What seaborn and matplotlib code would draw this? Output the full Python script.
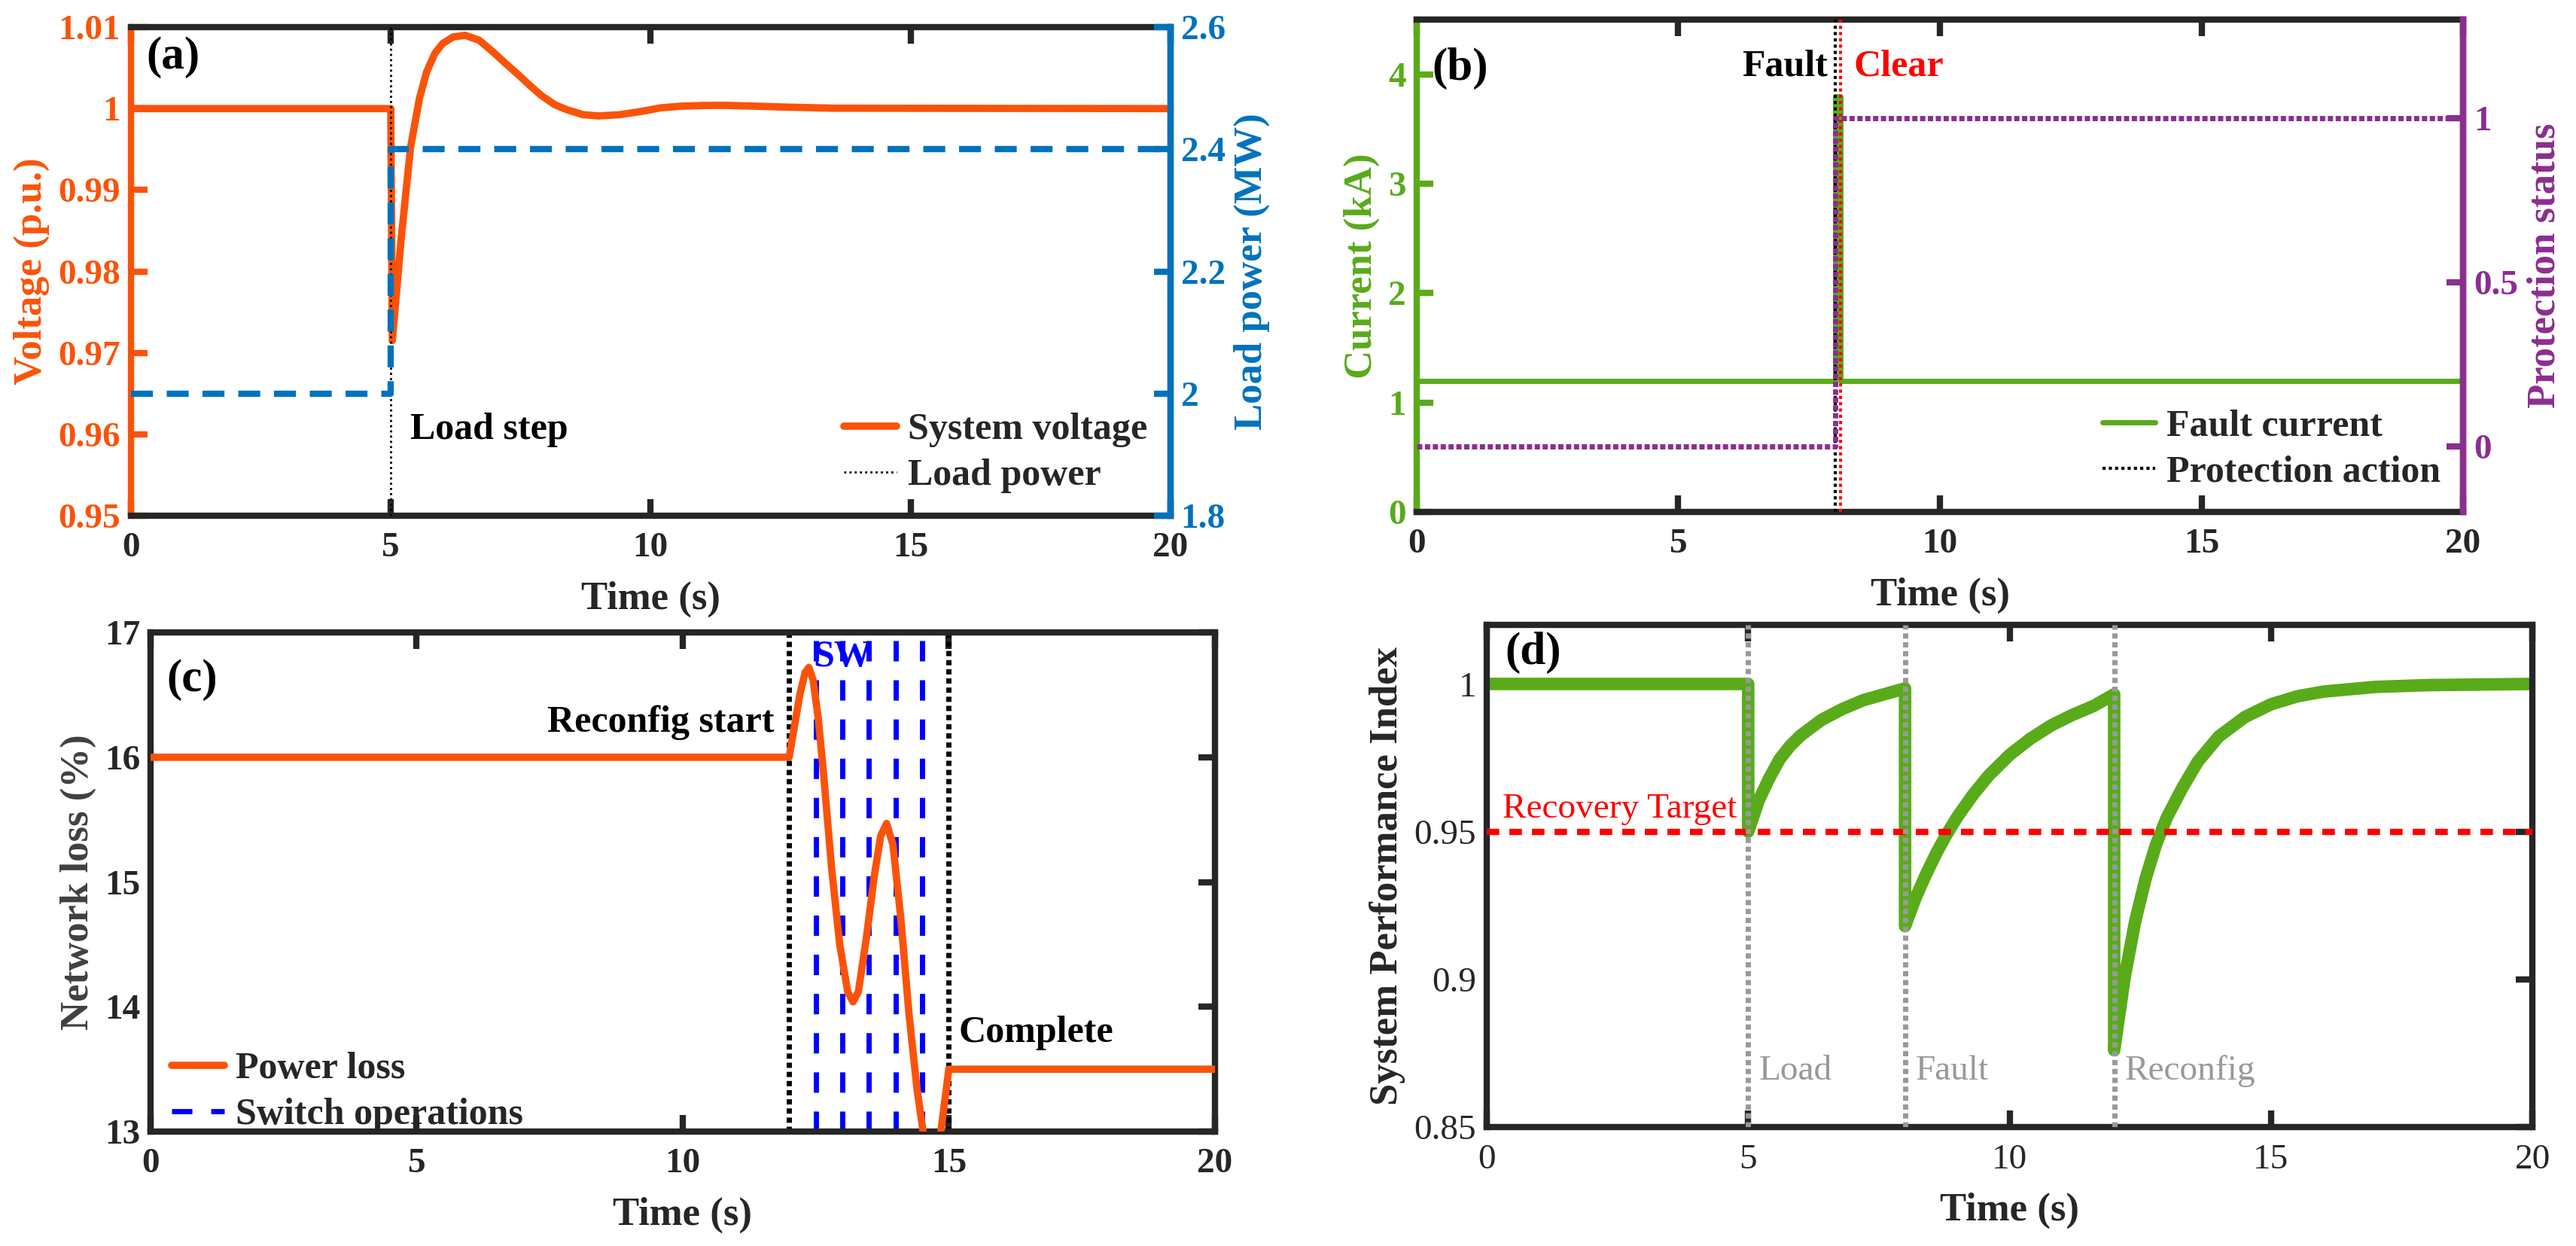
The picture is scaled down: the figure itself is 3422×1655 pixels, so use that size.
import numpy as np
import seaborn as sns
import matplotlib
matplotlib.use("Agg")
import matplotlib.pyplot as plt
from matplotlib.lines import Line2D

# ---- (a) load step ----
volt_t = [0, 5.0, 5.03, 5.2, 5.38, 5.55, 5.69, 5.85, 6.0, 6.2, 6.43, 6.7, 6.96, 7.2, 7.43,
          7.7, 7.9, 8.15, 8.38, 8.7, 9.0, 9.4, 9.8, 10.2, 10.6, 11.0, 11.4, 12.0, 12.5, 13.5, 20]
volt_v = [1.0, 1.0, 0.9715, 0.984, 0.9952, 1.0012, 1.0045, 1.0068, 1.0080, 1.0088, 1.0090, 1.0084, 1.0070,
          1.0056, 1.0043, 1.0027, 1.0016, 1.0005, 0.99988, 0.99925, 0.9991, 0.99925, 0.99963, 1.0001, 1.0003,
          1.00038, 1.0004, 1.0003, 1.0002, 1.00005, 1.0]
load_t = [0, 5.0, 5.0, 20]
load_p = [2.0, 2.0, 2.4, 2.4]

# ---- (b) fault ----
cur_t = [0, 8.0, 8.0, 8.1, 8.1, 20]
cur_i = [1.2, 1.2, 3.8, 3.8, 1.2, 1.2]
prot_t = [0, 8.0, 8.0, 20]
prot_s = [0, 0, 1, 1]

# ---- (c) reconfiguration ----
loss_t = [0, 12.0, 12.1, 12.2, 12.3, 12.37, 12.45, 12.55, 12.65, 12.8, 12.95, 13.1, 13.2, 13.3, 13.45,
          13.6, 13.72, 13.83, 13.95, 14.1, 14.25, 14.4, 14.55, 14.7, 14.85, 15.0, 20]
loss_v = [16.0, 16.0, 16.25, 16.5, 16.68, 16.72, 16.62, 16.3, 15.85, 15.1, 14.5, 14.12, 14.04, 14.12, 14.55,
          15.05, 15.37, 15.47, 15.3, 14.7, 13.95, 13.35, 12.9, 12.75, 13.0, 13.5, 13.5]
sw_times = [12.5, 13.0, 13.5, 14.0, 14.5]
reconfig_bounds = [12, 15]

# ---- (d) performance index ----
spi_t = [0, 5.0, 5.0, 5.2, 5.4, 5.6, 5.8, 6.0, 6.4, 6.8, 7.2, 7.6, 8.0,
         8.0, 8.2, 8.4, 8.6, 8.8, 9.0, 9.3, 9.6, 10.0, 10.4, 10.8, 11.2, 11.6, 12.0,
         12.0, 12.2, 12.4, 12.6, 12.8, 13.0, 13.3, 13.6, 14.0, 14.5, 15.0, 15.5, 16.0, 17.0, 18.0, 20]
spi_v = [1.0, 1.0, 0.95, 0.9605, 0.968, 0.9745, 0.979, 0.9825, 0.9878, 0.9915, 0.9945, 0.9965, 0.9985,
         0.918, 0.9275, 0.9355, 0.9428, 0.9492, 0.955, 0.9625, 0.969, 0.976, 0.9815, 0.986, 0.9895, 0.9925, 0.9965,
         0.876, 0.9006, 0.9195, 0.934, 0.9456, 0.9545, 0.9647, 0.9737, 0.9822, 0.9888, 0.9931, 0.9958, 0.9974,
         0.999, 0.9996, 1.0]
event_t = [5, 8, 12]
event_lbl = ["Load", "Fault", "Reconfig"]
target = 0.95

ORANGE = "#FA5309"
BLUE = "#0072BD"
GREEN = "#59AB1A"
PURPLE = "#8C2D8F"
DARK = "#262626"

sns.set_theme(style="white")
plt.rcParams["font.family"] = ["Liberation Serif", "DejaVu Serif"]
plt.rcParams["font.weight"] = "bold"
plt.rcParams["axes.linewidth"] = 3

TICK = 17
LAB = 19


def style_axis(ax, xcolor=DARK, right=True, bold=True):
    w = "bold" if bold else "normal"
    ax.set_xlim(0, 20)
    ax.set_xticks([0, 5, 10, 15, 20])
    ax.tick_params(axis="x", direction="in", length=8, width=3, top=True, bottom=True,
                   colors=DARK, labelsize=TICK, pad=8)
    ax.tick_params(axis="y", direction="in", length=8, width=3, right=right,
                   labelsize=TICK, pad=5)
    for lab in ax.get_xticklabels() + ax.get_yticklabels():
        lab.set_fontweight(w)
    for s in ax.spines.values():
        s.set_color(DARK)
        s.set_linewidth(3)
    ax.set_xlabel("Time (s)", fontsize=LAB, fontweight="bold", color=DARK, labelpad=8)


fig = plt.figure(figsize=(17.115, 8.275), dpi=200)

# ================= (a) =================
ax = fig.add_axes([0.0508, 0.5861, 0.4034, 0.3921])
ax2 = ax.twinx()
sns.lineplot(x=volt_t, y=volt_v, ax=ax, color=ORANGE, linewidth=3.5, estimator=None, sort=False, zorder=3)
sns.lineplot(x=load_t, y=load_p, ax=ax2, color=BLUE, linewidth=3, linestyle=(0, (3.5, 2.2)),
             estimator=None, sort=False)
vl = ax.axvline(5, color="black", linewidth=1, linestyle=(0, (1, 1.5)), zorder=4)
ax.set_ylim(0.95, 1.01)
ax.set_yticks([0.95, 0.96, 0.97, 0.98, 0.99, 1.0, 1.01])
ax.set_yticklabels(["0.95", "0.96", "0.97", "0.98", "0.99", "1", "1.01"])
ax2.set_ylim(1.8, 2.6)
ax2.set_yticks([1.8, 2.0, 2.2, 2.4, 2.6])
ax2.set_yticklabels(["1.8", "2", "2.2", "2.4", "2.6"])
style_axis(ax, right=False)
ax2.tick_params(axis="y", direction="in", length=8, width=3, colors=BLUE, labelsize=TICK, pad=5)
for lab in ax2.get_yticklabels():
    lab.set_fontweight("bold")
ax.tick_params(axis="y", colors=ORANGE)
ax.spines["left"].set_color(ORANGE)
ax2.spines["right"].set_color(BLUE)
ax2.spines["right"].set_linewidth(3)
ax2.spines["left"].set_visible(False)
ax2.spines["top"].set_visible(False)
ax2.spines["bottom"].set_visible(False)
ax.set_ylabel("Voltage (p.u.)", fontsize=LAB, fontweight="bold", color=ORANGE)
ax2.set_ylabel("Load power (MW)", fontsize=LAB, fontweight="bold", color=BLUE)
ax.text(0.3, 1.0063, "(a)", fontsize=22, fontweight="bold", color="black", va="center")
ax.text(5.37, 0.9605, "Load step", fontsize=18, fontweight="bold", color="black", va="center")
ax2.legend([Line2D([], [], color=ORANGE, lw=3.5), vl], ["System voltage", "Load power"],
           loc="lower right", frameon=False, fontsize=18, handlelength=1.4, handletextpad=0.3,
           borderaxespad=0.2, labelspacing=0.3)

# ================= (b) =================
bx = fig.add_axes([0.5498, 0.5891, 0.4061, 0.3952])
bx2 = bx.twinx()
sns.lineplot(x=cur_t, y=cur_i, ax=bx, color=GREEN, linewidth=2.5, estimator=None, sort=False)
sns.lineplot(x=prot_t, y=prot_s, ax=bx2, color=PURPLE, linewidth=2.5, linestyle=(0, (1, 0.5)),
             estimator=None, sort=False)
fv = bx.axvline(8.0, color="black", linewidth=1.5, linestyle=(0, (1, 1)), zorder=4)
bx.axvline(8.1, color="red", linewidth=1.5, linestyle=(0, (1, 1)), zorder=4)
bx.set_ylim(0, 4.5)
bx.set_yticks([0, 1, 2, 3, 4])
bx2.set_ylim(-0.2, 1.3)
bx2.set_yticks([0, 0.5, 1])
bx2.set_yticklabels(["0", "0.5", "1"])
style_axis(bx, right=False)
bx2.tick_params(axis="y", direction="in", length=8, width=3, colors=PURPLE, labelsize=TICK, pad=5)
for lab in bx2.get_yticklabels():
    lab.set_fontweight("bold")
bx.tick_params(axis="y", colors=GREEN)
bx.spines["left"].set_color(GREEN)
bx2.spines["right"].set_color(PURPLE)
bx2.spines["right"].set_linewidth(3)
bx2.spines["left"].set_visible(False)
bx2.spines["top"].set_visible(False)
bx2.spines["bottom"].set_visible(False)
bx.set_ylabel("Current (kA)", fontsize=LAB, fontweight="bold", color=GREEN)
bx2.set_ylabel("Protection status", fontsize=LAB, fontweight="bold", color=PURPLE)
bx.text(0.3, 4.05, "(b)", fontsize=22, fontweight="bold", color="black", va="center")
bx.text(7.85, 4.07, "Fault", fontsize=18, fontweight="bold", color="black", va="center", ha="right")
bx.text(8.35, 4.07, "Clear", fontsize=18, fontweight="bold", color="red", va="center", ha="left")
bx2.legend([Line2D([], [], color=GREEN, lw=2.5), fv], ["Fault current", "Protection action"],
           loc="lower right", frameon=False, fontsize=18, handlelength=1.4, handletextpad=0.3,
           borderaxespad=0.2, labelspacing=0.3)

# ================= (c) =================
cx = fig.add_axes([0.0584, 0.0918, 0.4131, 0.4006])
for t in reconfig_bounds:
    cx.axvline(t, color="black", linewidth=2.5, linestyle=(0, (1, 0.75)), zorder=2)
for t in sw_times:
    cx.axvline(t, color="#0000FF", linewidth=2.5, linestyle=(0, (3.9, 3.6)), zorder=2)
sns.lineplot(x=loss_t, y=loss_v, ax=cx, color=ORANGE, linewidth=3.5, estimator=None, sort=False, zorder=3)
cx.set_ylim(13, 17)
cx.set_yticks([13, 14, 15, 16, 17])
style_axis(cx)
cx.set_ylabel("Network loss (%)", fontsize=LAB, fontweight="bold", color="#404040")
cx.text(0.3, 16.62, "(c)", fontsize=22, fontweight="bold", color="black", va="center")
cx.text(11.72, 16.28, "Reconfig start", fontsize=18, fontweight="bold", color="black", va="center", ha="right")
cx.text(12.45, 16.8, "SW", fontsize=18, fontweight="bold", color="#0000FF", va="center", ha="left")
cx.text(15.18, 13.79, "Complete", fontsize=18, fontweight="bold", color="black", va="center", ha="left")
cx.legend([Line2D([], [], color=ORANGE, lw=3.5),
           Line2D([], [], color="#0000FF", lw=2.5, linestyle=(0, (3.9, 3.6)))],
          ["Power loss", "Switch operations"], loc="lower left", bbox_to_anchor=(-0.012, -0.07),
          frameon=False, fontsize=18, handlelength=1.4, handletextpad=0.3, labelspacing=0.3)

# ================= (d) =================
dx = fig.add_axes([0.5770, 0.0955, 0.4058, 0.4030])
sns.lineplot(x=spi_t, y=spi_v, ax=dx, color=GREEN, linewidth=6, estimator=None, sort=False, zorder=2)
dx.axhline(target, color="red", linewidth=3, linestyle=(0, (2, 1.6)), zorder=3)
for t, lbl in zip(event_t, event_lbl):
    dx.axvline(t, color="#999999", linewidth=2.5, linestyle=(0, (1, 0.7)), zorder=4)
    dx.text(t + 0.2, 0.869, lbl, fontsize=17, fontweight="normal", color="#999999", va="center")
dx.set_ylim(0.85, 1.02)
dx.set_yticks([0.85, 0.9, 0.95, 1.0])
dx.set_yticklabels(["0.85", "0.9", "0.95", "1"])
style_axis(dx, bold=False)
dx.set_ylabel("System Performance Index", fontsize=LAB, fontweight="bold", color=DARK)
dx.text(0.35, 1.0105, "(d)", fontsize=22, fontweight="bold", color="black", va="center")
dx.text(0.3, 0.9575, "Recovery Target", fontsize=17, fontweight="normal", color="red", va="center")

fig.savefig("out.png", dpi=200)
